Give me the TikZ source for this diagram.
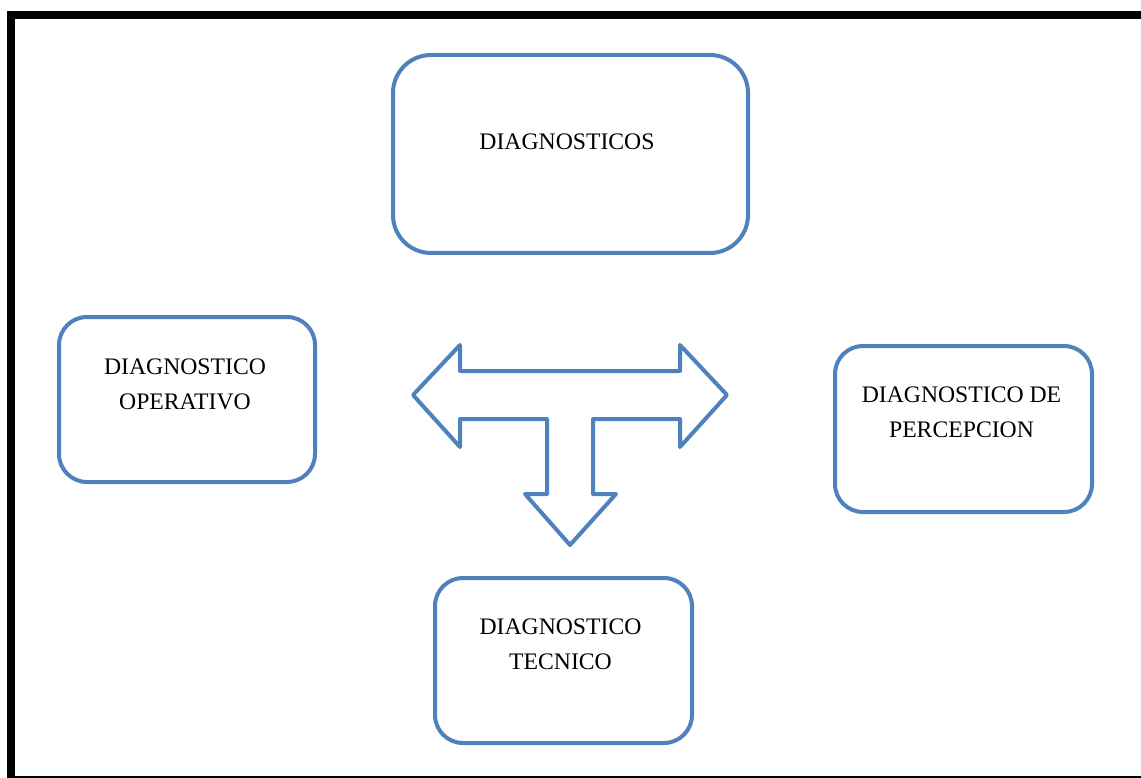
\documentclass[tikz,border=0pt]{standalone}
\usepackage{fontspec}
\setmainfont{Liberation Serif}
\definecolor{ofblue}{HTML}{4F81BD}
\begin{document}
\begin{tikzpicture}[x=1pt,y=-1pt,
  box/.style={draw=ofblue, line width=4pt, rounded corners=28pt, fill=white, inner sep=0pt},
  bigbox/.style={box, rounded corners=38pt},
  lbl/.style={align=center, font=\fontsize{23.7}{35}\selectfont, inner sep=0pt, text=black},
  arr/.style={draw=ofblue, line width=4pt, line join=round, fill=white}]
\useasboundingbox (0,0) rectangle (1141,778);
% frame
\fill[black] (7,11) rectangle (1141,19);
\fill[black] (7,11) rectangle (15,778);
\fill[black] (15,775.5) rectangle (1141,777.5);
% boxes
\node[bigbox, minimum width=355pt, minimum height=198pt] (top) at (570.5,154) {};
\node[box, minimum width=256pt, minimum height=165pt] (left) at (187,399.5) {};
\node[box, minimum width=257pt, minimum height=166pt] (right) at (963.5,429) {};
\node[box, minimum width=257pt, minimum height=165pt] (bottom) at (563.5,660.5) {};
% labels
\node[lbl] (ttop) at (567,142) {DIAGNOSTICOS};
\node[lbl] (tleft) at (185,384.5) {DIAGNOSTICO\\OPERATIVO};
\node[lbl] (tright) at (961.5,412) {DIAGNOSTICO DE\\PERCEPCION};
\node[lbl] (tbottom) at (560.5,644.5) {DIAGNOSTICO\\TECNICO};
% T arrow
\draw[arr] (413,395) -- (460,345) -- (460,371) -- (680,371) -- (680,345) -- (727,395)
  -- (680,447) -- (680,419) -- (593,419) -- (593,494) -- (616,494) -- (570,545)
  -- (525,494) -- (547,494) -- (547,419) -- (460,419) -- (460,447) -- cycle;
\end{tikzpicture}
\end{document}
